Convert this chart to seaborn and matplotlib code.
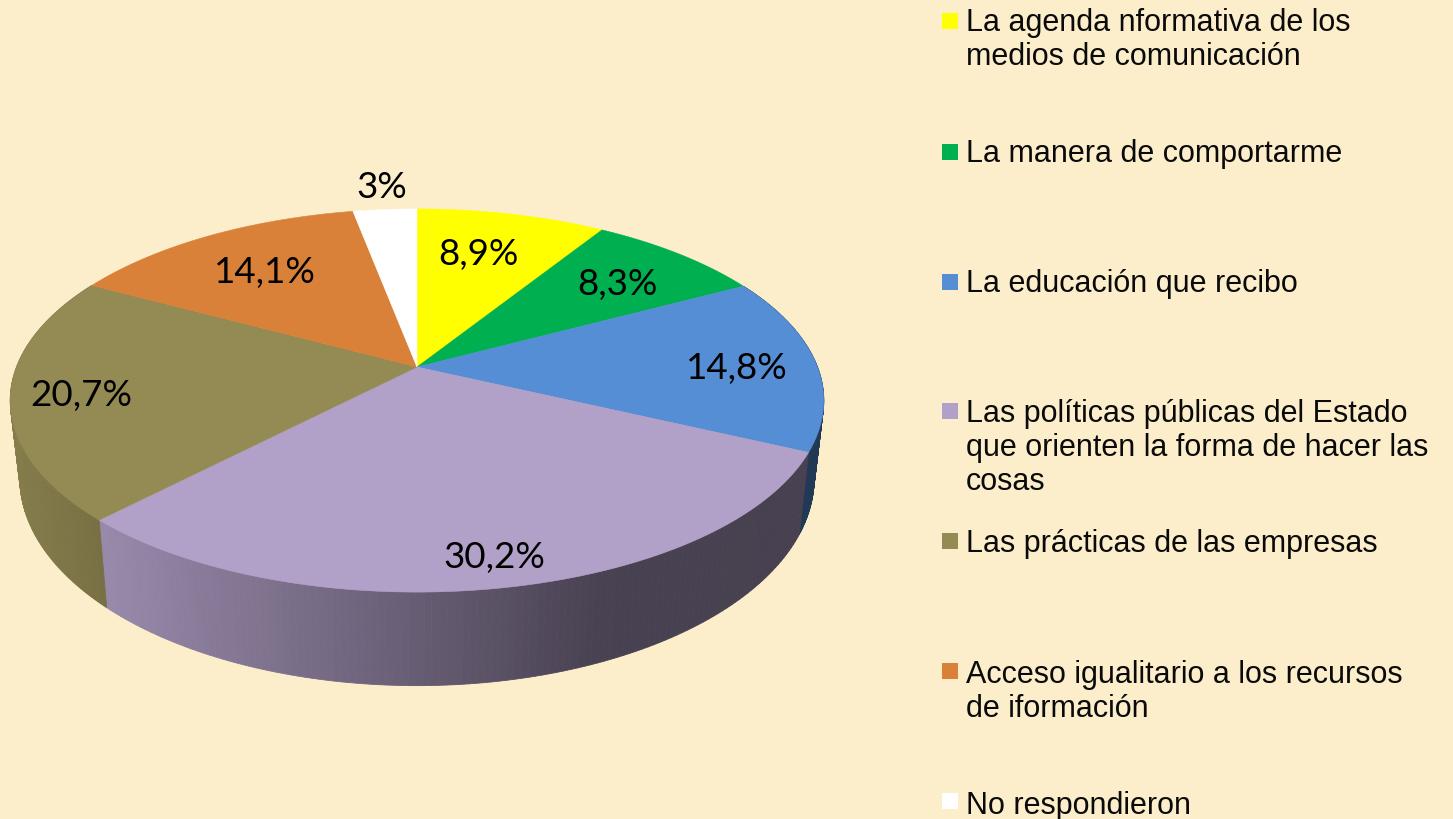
import numpy as np
import seaborn as sns
import matplotlib
matplotlib.use("Agg")
import matplotlib.pyplot as plt

# data
categorias = [
    "La agenda nformativa de los\nmedios de comunicación",
    "La manera de comportarme",
    "La educación que recibo",
    "Las políticas públicas del Estado\nque orienten la forma de hacer las\ncosas",
    "Las prácticas de las empresas",
    "Acceso igualitario a los recursos\nde iformación",
    "No respondieron",
]
valores = [8.9, 8.3, 14.8, 30.2, 20.7, 14.1, 3.0]
etiquetas = ["8,9%", "8,3%", "14,8%", "30,2%", "20,7%", "14,1%", "3%"]
colores = ["#FFFF00", "#00B050", "#558ED5", "#B1A0C7", "#948A54", "#D98139", "#FFFFFF"]

fondo = "#FCEECB"

sns.set_theme(style="white")
plt.rcParams["font.family"] = ["Liberation Sans", "DejaVu Sans"]
paleta = sns.color_palette(colores)

fig = plt.figure(figsize=(14.53, 8.2), dpi=100, facecolor=fondo)
ax = fig.add_axes([0, 0, 1, 1])
ax.set_xlim(0, 1453)
ax.set_ylim(820, 0)
ax.axis("off")

# perspective of the disc, in pixels
K = 0.175
cx = 417
cy = 368


def cara_sup(t):
    w = 1 + K * np.cos(t)
    return cx + 400.5 * np.sin(t) / w, cy - 185.7 * np.cos(t) / w


def cara_inf(t):
    w = 1 + K * np.cos(t)
    return cx + 391 * np.sin(t) / w, cy + 75 - 201 * np.cos(t) / w


bordes = np.cumsum([0] + valores) / sum(valores) * 2 * np.pi

# shading of the side wall along x: (x stops, factors)
sombras = {
    2: ([700, 830], [0.40, 0.40]),
    3: ([100, 417, 600, 830], [0.86, 0.58, 0.41, 0.40]),
    4: ([10, 108], [0.90, 0.80]),
}

# side wall first, the top covers what is behind it
for i, color in enumerate(paleta):
    if i not in sombras:
        continue
    ts = np.linspace(bordes[i], bordes[i + 1], 120)
    for a, b in zip(ts[:-1], ts[1:]):
        xa, ya = cara_sup(a)
        xb, yb = cara_sup(b)
        xc, yc = cara_inf(b)
        xd, yd = cara_inf(a)
        f = np.interp((xa + xb) / 2, *sombras[i])
        c = tuple(np.array(color) * f)
        ax.fill([xa, xb, xc, xd], [ya, yb, yc, yd], color=c, lw=0.6, zorder=2)

# top face
for i, color in enumerate(paleta):
    ts = np.linspace(bordes[i], bordes[i + 1], 150)
    xs, ys = cara_sup(ts)
    ax.fill(np.r_[cx, xs], np.r_[cy, ys], color=color, lw=0.4, zorder=3)

# slice labels
pos_etiquetas = [(478, 255), (617, 285), (737, 369), (494, 558), (81, 396), (265, 273), (382, 187)]
for txt, (x, y) in zip(etiquetas, pos_etiquetas):
    ax.text(x, y, txt, fontsize=26.5, family=["Lato", "DejaVu Sans"], color="black",
            ha="center", va="center", zorder=4)

# legend
cuadros_y = [14, 145, 275, 404, 534, 664, 794]
base_y = [31, 162, 292, 422, 552, 683, 814]
for cat, color, qy, by in zip(categorias, paleta, cuadros_y, base_y):
    ax.fill([942, 958, 958, 942], [qy, qy, qy + 16, qy + 16], color=color, lw=0, zorder=3)
    for n, linea in enumerate(cat.split("\n")):
        ax.text(966, by + n * 34, linea, fontsize=22, color="#0A0A0A",
                ha="left", va="baseline", zorder=4)

fig.savefig("out.png", dpi=100, facecolor=fondo)
